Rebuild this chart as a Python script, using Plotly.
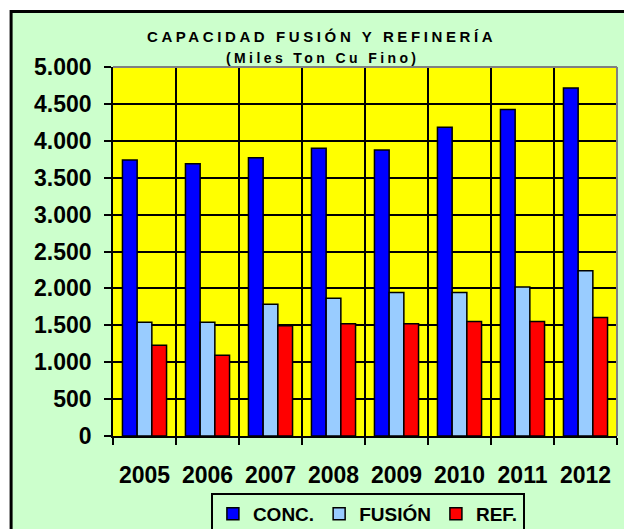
import plotly.graph_objects as go

# data (miles ton Cu fino)
years = ["2005", "2006", "2007", "2008", "2009", "2010", "2011", "2012"]
conc = [3740, 3690, 3770, 3900, 3875, 4185, 4425, 4715]
fusion = [1540, 1540, 1785, 1865, 1945, 1945, 2020, 2240]
ref = [1230, 1095, 1495, 1520, 1520, 1550, 1550, 1605]

y_ticks = [0, 500, 1000, 1500, 2000, 2500, 3000, 3500, 4000, 4500, 5000]

# plot area in window pixels (624x529)
L, R, T, B = 113, 617.5, 67, 436
W, H = R - L, B - T


def px(x):
    return (x - L) / W


def py(y):
    return (B - y) / H


fig = go.Figure()
fig.add_bar(x=years, y=conc, name="CONC.", marker=dict(color="#0000FF", line=dict(color="black", width=1.5)))
fig.add_bar(x=years, y=fusion, name="FUSIÓN", marker=dict(color="#99CCFF", line=dict(color="black", width=1.5)))
fig.add_bar(x=years, y=ref, name="REF.", marker=dict(color="#FF0000", line=dict(color="black", width=1.5)))

font = "Liberation Sans, Arial, sans-serif"

fig.update_layout(
    width=624, height=529,
    # legend runs off the bottom edge like the original, so don't let it push the margins
    margin=dict(l=L, r=624 - R, t=T, b=529 - B, autoexpand=False),
    paper_bgcolor="#CCFFCC",
    plot_bgcolor="#FFFF00",
    separators=",.",
    barmode="group",
    bargap=0.3,
    bargroupgap=0,
    hovermode=False,
    font=dict(family=font, color="black"),
    showlegend=True,
    legend=dict(
        orientation="h",
        x=px(211), xanchor="left",
        y=py(493), yanchor="top",
        bgcolor="#CCFFCC",
        bordercolor="black", borderwidth=2,
        font=dict(family=font, size=19, color="black", weight="bold"),
        itemclick=False,
    ),
)

fig.update_xaxes(
    type="category",
    tickson="boundaries",
    showgrid=True, gridcolor="black", gridwidth=1.5,
    ticks="outside", ticklen=7, tickcolor="black", tickwidth=1.5,
    showline=True, linecolor="black", linewidth=1.5,
    tickfont=dict(family=font, size=23, weight="bold"),
    ticklabelstandoff=18,
    fixedrange=True,
)
fig.update_yaxes(
    range=[0, 5000],
    tickvals=y_ticks,
    tickformat=",.0f",
    showgrid=True, gridcolor="black", gridwidth=1.5,
    zeroline=False,
    ticks="outside", ticklen=7, tickcolor="black", tickwidth=1.5,
    showline=True, linecolor="black", linewidth=1.5,
    tickfont=dict(family=font, size=23, weight="bold"),
    ticklabelstandoff=8,
    fixedrange=True,
)

# title lines (letter-spaced like the original)
fig.add_annotation(text='<span style="letter-spacing:3.6px">CAPACIDAD FUSIÓN Y REFINERÍA</span>',
                   xref="paper", yref="paper", x=px(322), y=py(36), yanchor="middle", showarrow=False,
                   font=dict(family=font, size=15, weight="bold"))
fig.add_annotation(text='<span style="letter-spacing:3.4px">(Miles Ton Cu Fino)</span>',
                   xref="paper", yref="paper", x=px(323), y=py(58), yanchor="middle", showarrow=False,
                   font=dict(family=font, size=14, weight="bold"))

# white strips outside the chart frame and the thick black frame
fig.add_shape(type="rect", xref="paper", yref="paper", x0=px(-5), x1=px(10), y0=py(540), y1=py(-5),
              fillcolor="white", line=dict(width=0))
fig.add_shape(type="rect", xref="paper", yref="paper", x0=px(-5), x1=px(630), y0=py(10), y1=py(-5),
              fillcolor="white", line=dict(width=0))
fig.add_shape(type="rect", xref="paper", yref="paper", x0=px(11), x1=px(640), y0=py(545), y1=py(11.5),
              line=dict(color="black", width=3))
# grey plot-area frame (top and right)
fig.add_shape(type="line", xref="paper", yref="paper", x0=0, x1=1, y0=1, y1=1,
              line=dict(color="#808080", width=2))
fig.add_shape(type="line", xref="paper", yref="paper", x0=1, x1=1, y0=0, y1=1,
              line=dict(color="#808080", width=2))

# drop the default body margin so the figure fills the window exactly
fig.write_html("out.html", config={"displayModeBar": False},
               post_script="document.body.style.margin='0px';document.body.style.overflow='hidden';")
